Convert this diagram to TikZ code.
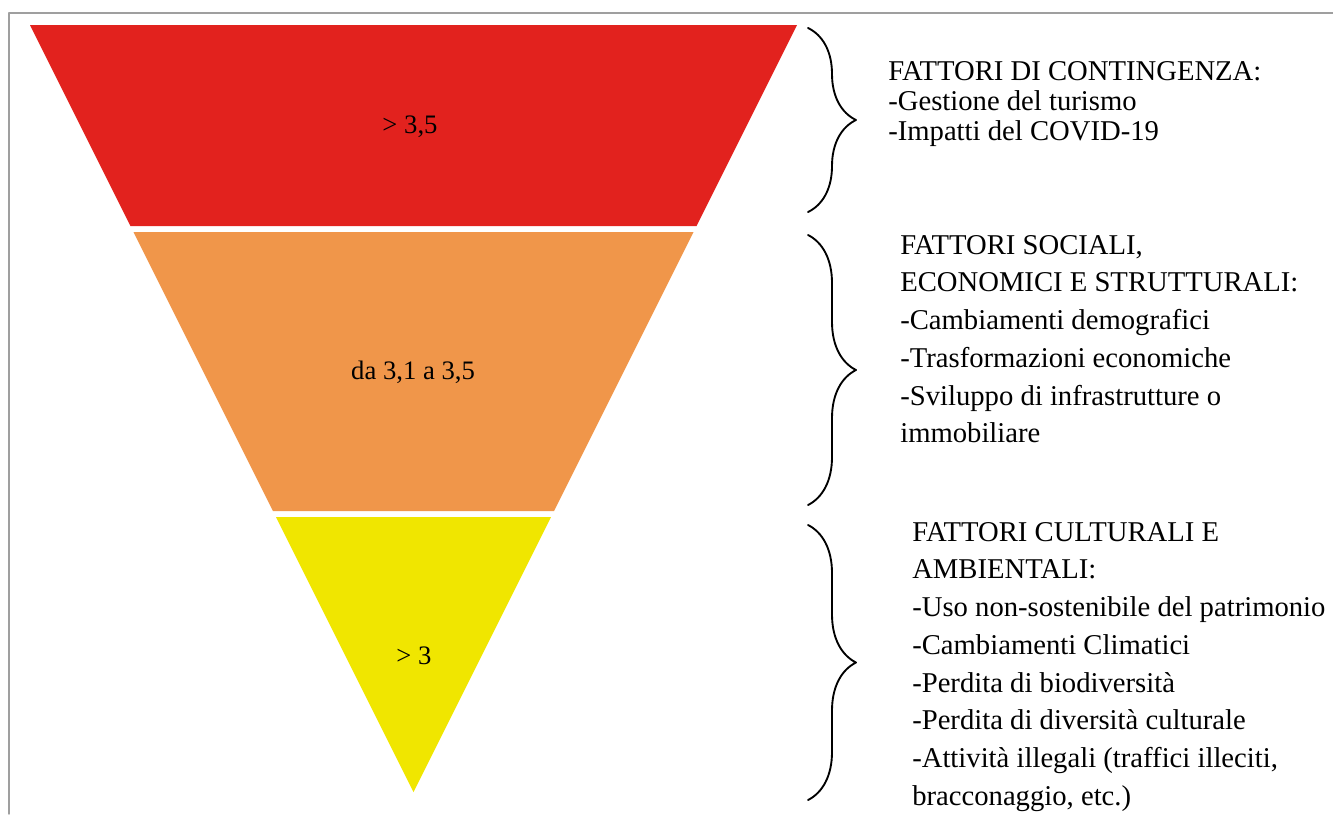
\documentclass[tikz,border=0pt]{standalone}
\usepackage{fontspec}
\setmainfont{Liberation Serif}
\usetikzlibrary{decorations.pathreplacing}
\definecolor{rosso}{RGB}{226,34,30}
\definecolor{arancio}{RGB}{240,150,74}
\definecolor{giallo}{RGB}{240,230,0}
\tikzset{
  graffa/.style={decorate, decoration={brace, amplitude=36pt}, line width=1.4pt},
  voce/.style={anchor=north west, inner sep=0pt, align=left, font=\fontsize{21.5}{28.3}\selectfont},
  soglia/.style={inner sep=0pt, font=\fontsize{20}{22}\selectfont},
}
\begin{document}
\begin{tikzpicture}[x=.75pt, y=-.75pt, line join=round, line cap=round]
            \useasboundingbox (0,0) rectangle (1333,814);
            \def\xl{30}
            \def\xr{797}
            \def\yt{25}
            \def\xb{808}
            % cornice
            \draw[gray!75, line width=1.1pt] (9,814)--(9,13)--(1333,13);
            % fasce dell'imbuto
            \foreach \ya/\yb/\col in {25/226/rosso, 232/511/arancio, 517/792/giallo}{
                \fill[\col] ({\xl+(\ya-\yt)/2},\ya) -- ({\xr-(\ya-\yt)/2},\ya)
                    -- ({\xr-(\yb-\yt)/2},\yb) -- ({\xl+(\yb-\yt)/2},\yb) -- cycle;
            }
            \path
            node[soglia] (s1) at (410,127) {> 3,5}
            node[soglia] (s2) at (413,372) {da 3,1 a 3,5}
            node[soglia] (s3) at (414,656) {> 3};
            % graffe
            \foreach \ya/\yb in {28/212, 235/505, 525/800}{
                \draw[graffa] (\xb,\ya) -- (\xb,\yb);
            }
            \node[voce, font=\fontsize{21.5}{22.5}\selectfont] (f1) at (888,61)
                {FATTORI DI CONTINGENZA:\\-Gestione del turismo\\-Impatti del COVID-19};
            \node[voce] (f2) at (900,235)
                {FATTORI SOCIALI,\\ECONOMICI E STRUTTURALI:\\-Cambiamenti demografici\\-Trasformazioni economiche\\-Sviluppo di infrastrutture o\\immobiliare};
            \node[voce] (f3) at (912,522)
                {FATTORI CULTURALI E\\AMBIENTALI:\\-Uso non-sostenibile del patrimonio\\-Cambiamenti Climatici\\-Perdita di biodiversità\\-Perdita di diversità culturale\\-Attività illegali (traffici illeciti,\\bracconaggio, etc.)};
\end{tikzpicture}
\end{document}
